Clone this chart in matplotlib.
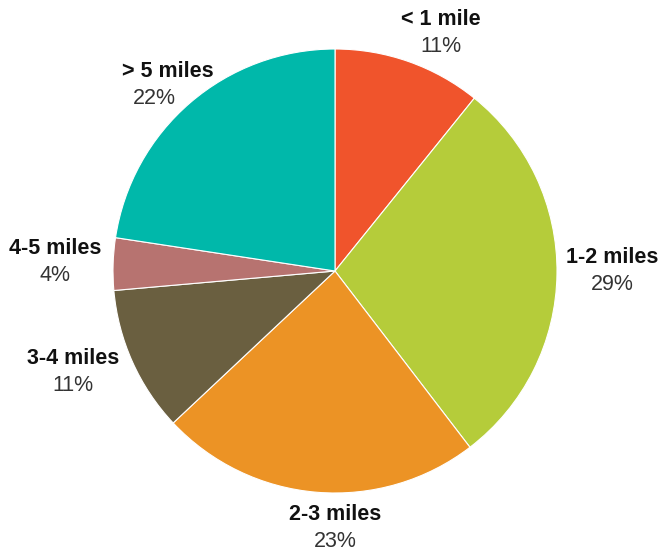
import matplotlib.pyplot as plt

categories = ["< 1 mile", "1-2 miles", "2-3 miles", "3-4 miles", "4-5 miles", "> 5 miles"]
shares = [10.8, 28.8, 23.4, 10.6, 3.8, 22.6]   # slice sizes as drawn
pct_labels = ["11%", "29%", "23%", "11%", "4%", "22%"]
colors = ["#F0542C", "#B5CC3A", "#EC9325", "#6A5F40", "#B77370", "#00B8AA"]

# label anchors (pixels from pie centre, x right / y up): name x, pct x, y
label_pos = [(106, 106, 238), (277, 277, 0), (0, 0, -257),
             (-262, -262, -101), (-280, -280, 9), (-167, -181, 186)]

plt.rcParams['font.family'] = ['Liberation Sans', 'DejaVu Sans']

fig = plt.figure(figsize=(6.63, 5.5), dpi=100)
ax = fig.add_axes([0, 0, 1, 1])
cx, cy, r = 335, 279, 222
wedges, _ = ax.pie(shares, colors=colors, startangle=90, counterclock=False,
                   radius=r, center=(cx, cy),
                   wedgeprops=dict(edgecolor="white", linewidth=0.8))
ax.set_xlim(0, 663)
ax.set_ylim(0, 550)
ax.set_aspect("equal")
ax.axis("off")

for name, pct, (nx, px, y) in zip(categories, pct_labels, label_pos):
    ax.text(cx + nx, cy + y + 13.5, name, ha="center", va="center", fontsize=15.5,
            fontweight="bold", color="#111111")
    ax.text(cx + px, cy + y - 13.5, pct, ha="center", va="center", fontsize=15.5,
            color="#333333")

fig.savefig("out.png", dpi=100)
